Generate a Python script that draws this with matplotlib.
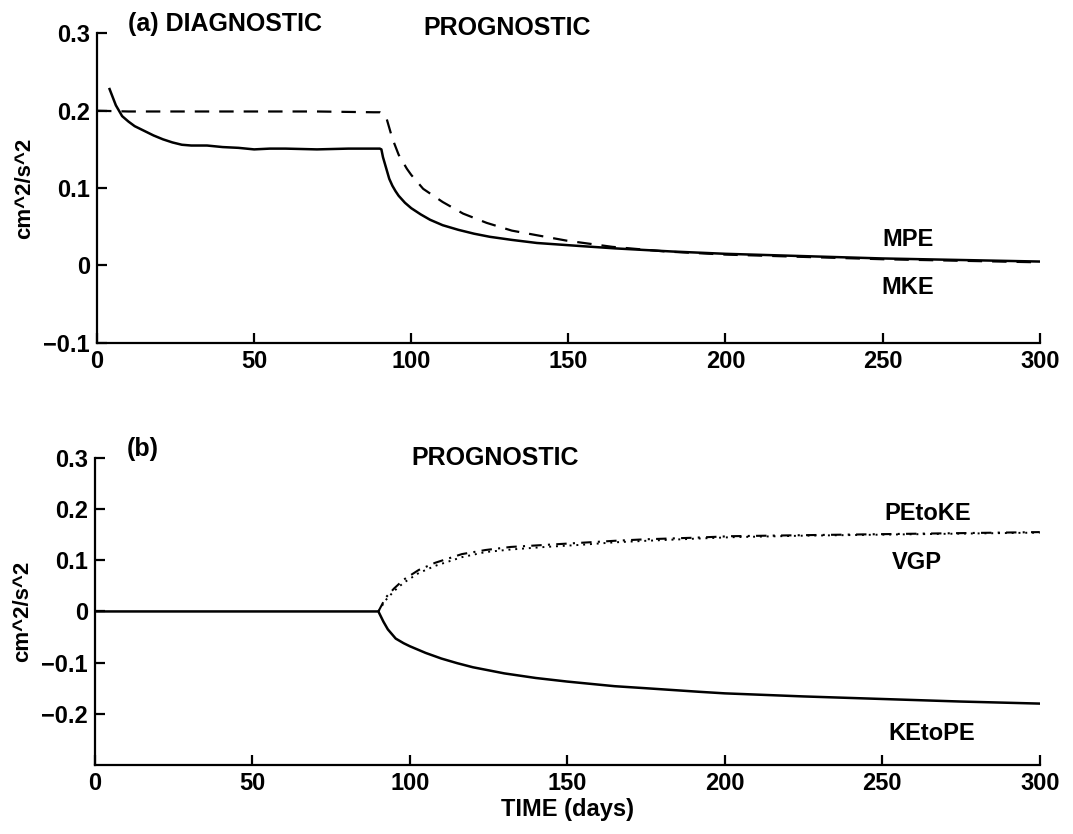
import matplotlib
matplotlib.use("Agg")
import matplotlib.pyplot as plt

plt.rcParams["font.family"] = ["Liberation Sans", "DejaVu Sans"]
plt.rcParams["font.weight"] = "bold"
plt.rcParams["axes.labelweight"] = "bold"

# ---- panel (a): MKE (solid) and MPE (dashed) ----
mke_t = [4, 6, 8, 10, 12, 15, 18, 21, 24, 27, 30, 35, 40, 45, 50, 55, 60, 70,
         80, 90, 90.5, 91, 92, 93, 94, 95, 96, 98, 100, 103, 106, 110, 115,
         120, 125, 132, 140, 154, 165, 183, 200, 225, 250, 275, 300]
mke_v = [0.228, 0.207, 0.193, 0.186, 0.180, 0.174, 0.168, 0.163, 0.159, 0.156,
         0.155, 0.155, 0.153, 0.152, 0.150, 0.151, 0.151, 0.150,
         0.151, 0.151, 0.150, 0.140, 0.126, 0.112, 0.103, 0.096, 0.090,
         0.081, 0.074, 0.066, 0.059, 0.052, 0.046,
         0.041, 0.037, 0.033, 0.029, 0.025, 0.022, 0.018, 0.015, 0.012,
         0.009, 0.007, 0.005]

mpe_t = [0, 10, 30, 50, 70, 88, 90, 92, 93, 94, 96, 98.6, 100, 103.8, 110,
         116.5, 124, 132, 140, 149.5, 164, 181, 200, 225, 250, 275, 300]
mpe_v = [0.200, 0.199, 0.199, 0.199, 0.199, 0.198, 0.198, 0.192, 0.178, 0.164,
         0.143, 0.125, 0.117, 0.099, 0.082, 0.067, 0.055, 0.045, 0.039,
         0.032, 0.024, 0.018, 0.014, 0.011, 0.008, 0.006, 0.004]

# ---- panel (b): KEtoPE (solid), PEtoKE (dash-dot), VGP (dotted) ----
ketope_t = [0, 30, 60, 90, 91.6, 93, 95.5, 98, 100, 105, 110, 115, 120, 130,
            140, 150, 165, 175, 192, 200, 225, 250, 275, 300]
ketope_v = [0.0, 0.0, 0.0, 0.0, -0.020, -0.035, -0.053, -0.062, -0.068,
            -0.081, -0.092, -0.101, -0.109, -0.121, -0.130, -0.137, -0.146,
            -0.150, -0.157, -0.160, -0.166, -0.171, -0.176, -0.180]

petoke_t = [90, 92.3, 95, 98, 102.8, 108, 116.5, 124, 132, 143, 154, 165,
            175, 190, 202, 225, 250, 275, 300]
petoke_v = [0.0, 0.027, 0.045, 0.062, 0.081, 0.095, 0.112, 0.120, 0.126,
            0.130, 0.134, 0.138, 0.141, 0.144, 0.147, 0.149, 0.151, 0.153,
            0.155]

vgp_t = [90, 92.3, 95, 98, 102.8, 108, 116.5, 124, 132, 143, 154, 165,
         175, 190, 202, 225, 250, 275, 300]
vgp_v = [0.0, 0.022, 0.040, 0.056, 0.075, 0.089, 0.106, 0.116, 0.121,
         0.126, 0.130, 0.135, 0.138, 0.142, 0.145, 0.148, 0.150, 0.152,
         0.154]

x_ticks = [0, 50, 100, 150, 200, 250, 300]
ya_ticks = [-0.1, 0, 0.1, 0.2, 0.3]
ya_labels = ["\u22120.1", "0", "0.1", "0.2", "0.3"]
yb_ticks = [-0.2, -0.1, 0, 0.1, 0.2, 0.3]
yb_labels = ["\u22120.2", "\u22120.1", "0", "0.1", "0.2", "0.3"]

fig = plt.figure(figsize=(10.73, 8.34), dpi=100)
ax1 = fig.add_axes([0.0904, 0.589, 0.8786, 0.371])
ax2 = fig.add_axes([0.0885, 0.0827, 0.8805, 0.3683])

for ax in (ax1, ax2):
    for s in ("top", "right"):
        ax.spines[s].set_visible(False)
    for s in ("left", "bottom"):
        ax.spines[s].set_linewidth(1.6)
    ax.tick_params(direction="in", length=7, width=1.6, labelsize=17, pad=5)
    ax.set_xlim(0, 300)
    ax.set_xticks(x_ticks)
    ax.set_ylabel("cm^2/s^2", fontsize=16, labelpad=6)

ax1.set_ylim(-0.1, 0.3)
ax1.set_yticks(ya_ticks)
ax1.set_yticklabels(ya_labels)
ax1.plot(mpe_t, mpe_v, color="black", lw=1.6, ls=(0, (6.5, 4.5)))
ax1.plot(mke_t, mke_v, color="black", lw=1.8)
ax1.text(10, 0.312, "(a) DIAGNOSTIC", fontsize=18, va="center")
ax1.text(104, 0.307, "PROGNOSTIC", fontsize=18, va="center")
ax1.text(258, 0.034, "MPE", fontsize=17, ha="center", va="center")
ax1.text(258, -0.028, "MKE", fontsize=17, ha="center", va="center")

ax2.set_ylim(-0.3, 0.3)
ax2.set_yticks(yb_ticks)
ax2.set_yticklabels(yb_labels)
ax2.plot(ketope_t, ketope_v, color="black", lw=1.8)
ax2.plot(petoke_t, petoke_v, color="black", lw=1.5, ls=(0, (5, 3, 1, 3)))
ax2.plot(vgp_t, vgp_v, color="black", lw=1.4, ls=(0, (1, 2.5)))
ax2.text(10, 0.318, "(b)", fontsize=18, va="center")
ax2.text(100.5, 0.300, "PROGNOSTIC", fontsize=18, va="center")
ax2.text(264.5, 0.192, "PEtoKE", fontsize=17, ha="center", va="center")
ax2.text(261, 0.096, "VGP", fontsize=17, ha="center", va="center")
ax2.text(265.7, -0.239, "KEtoPE", fontsize=17, ha="center", va="center")
ax2.set_xlabel("TIME (days)", fontsize=17, labelpad=2)

fig.savefig("out.png", dpi=100)
